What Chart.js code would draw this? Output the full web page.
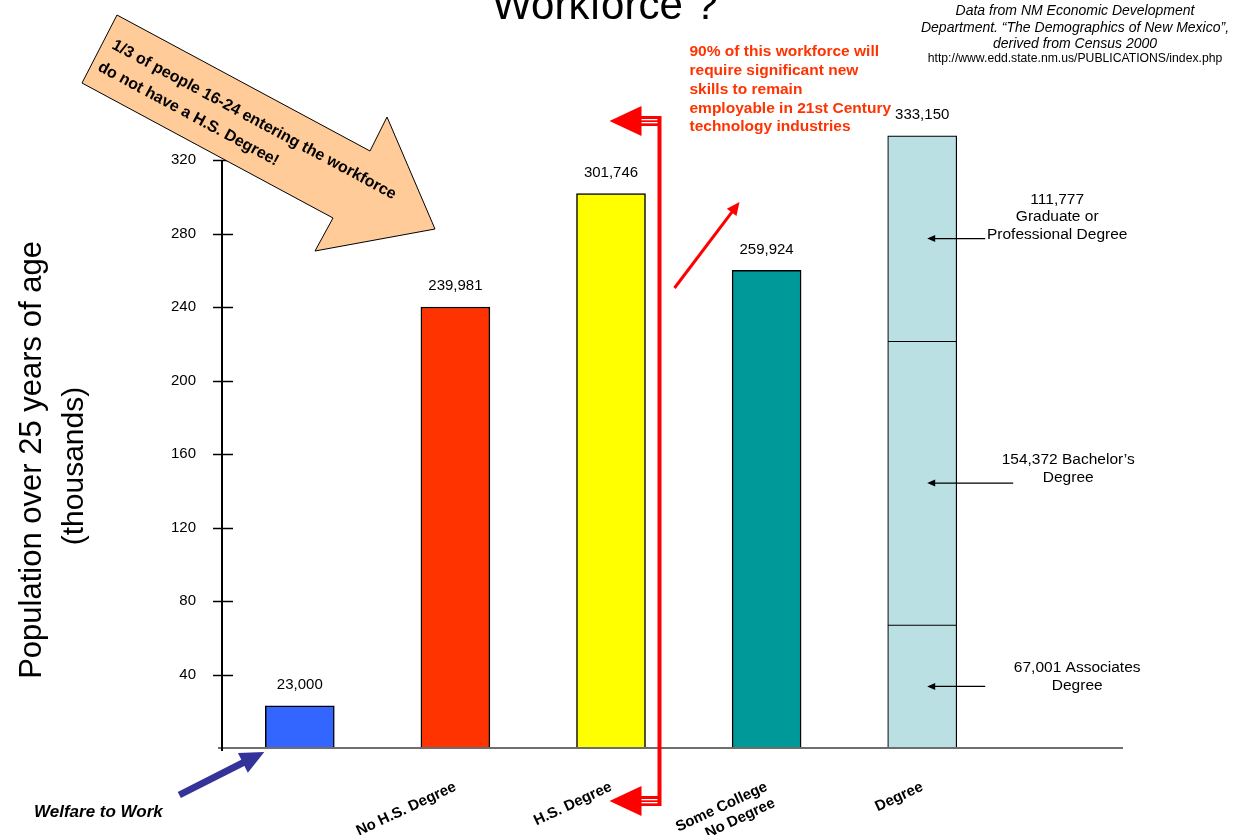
<!DOCTYPE html>
<html>
<head>
<meta charset="utf-8">
<script src="https://cdn.jsdelivr.net/npm/chart.js@4.4.1/dist/chart.umd.min.js"></script>
<style>
  html, body { margin: 0; padding: 0; background: #fff; }
  #wrap { width: 1239px; height: 835px; position: relative; }
</style>
</head>
<body>
<div id="wrap"><canvas id="chart"></canvas></div>
<script>
// values
const categories = ['Welfare to Work', 'No H.S. Degree', 'H.S. Degree', ['Some College', 'No Degree'], 'Degree'];
const population = [23000, 239981, 301746, 259924, null];
const barColors = ['#3366FF', '#FF3300', '#FFFF00', '#009999'];
const degreeLevels = ['Associates', 'Bachelor’s', 'Graduate or Professional'];
const degreeValues = [67001, 154372, 111777];
const yMax = 320000;
const yStep = 40000;

const FONT = '"Liberation Sans", Arial, Helvetica, sans-serif';
const fmt = v => v.toLocaleString('en-US');
const degreeIdx = categories.length - 1;

function txt(ctx, s, x, y, font, color, align, base) {
    ctx.font = font;
    ctx.fillStyle = color || '#000';
    ctx.textAlign = align || 'left';
    ctx.textBaseline = base || 'middle';
    ctx.fillText(s, x, y);
}

function arrow(ctx, x1, y1, x2, y2, w, head, half, color) {
    const a = Math.atan2(y2 - y1, x2 - x1);
    const c = Math.cos(a), s = Math.sin(a);
    ctx.strokeStyle = color;
    ctx.lineWidth = w;
    ctx.beginPath();
    ctx.moveTo(x1, y1);
    ctx.lineTo(x2 - c * head * 0.8, y2 - s * head * 0.8);
    ctx.stroke();
    ctx.fillStyle = color;
    ctx.beginPath();
    ctx.moveTo(x2, y2);
    ctx.lineTo(x2 - c * head + s * half, y2 - s * head - c * half);
    ctx.lineTo(x2 - c * head - s * half, y2 - s * head + c * half);
    ctx.closePath();
    ctx.fill();
}

const slideExtras = {
    id: 'slideExtras',
    afterDatasetsDraw(chart) {
        const ctx = chart.ctx;
        const area = chart.chartArea;
        const yScale = chart.scales.y;
        const main = chart.getDatasetMeta(0);
        ctx.save();

        // x baseline, runs on past the last bar like the slide
        ctx.strokeStyle = '#6e6e6e';
        ctx.lineWidth = 2;
        ctx.beginPath();
        ctx.moveTo(area.left - 4, area.bottom);
        ctx.lineTo(area.right + 123, area.bottom);
        ctx.stroke();

        // y axis line and crossing tick marks
        ctx.strokeStyle = '#000';
        ctx.lineWidth = 2;
        ctx.beginPath();
        ctx.moveTo(area.left, area.top);
        ctx.lineTo(area.left, area.bottom + 3);
        ctx.stroke();
        ctx.lineWidth = 1.5;
        yScale.ticks.forEach(t => {
            if (t.value === 0) return;
            const py = Math.round(yScale.getPixelForValue(t.value)) + 0.5;
            ctx.beginPath();
            ctx.moveTo(area.left - 9, py);
            ctx.lineTo(area.left + 11, py);
            ctx.stroke();
        });

        // value labels above the bars
        main.data.forEach((el, i) => {
            if (population[i] == null) return;
            txt(ctx, fmt(population[i]), el.x, el.y - 21, '15px ' + FONT, '#000', 'center');
        });
        const degreeTop = chart.getDatasetMeta(degreeValues.length).data[degreeIdx];
        const degreeTotal = degreeValues.reduce((a, b) => a + b, 0);
        txt(ctx, fmt(degreeTotal), degreeTop.x, degreeTop.y - 21, '15px ' + FONT, '#000', 'center');

        // notes for the three parts of the Degree bar
        const notes = [
            { lines: [fmt(degreeValues[0]) + ' ' + degreeLevels[0], 'Degree'], dx: 155, dy: [-19, -1], from: 63 },
            { lines: [fmt(degreeValues[1]) + ' ' + degreeLevels[1], 'Degree'], dx: 146, dy: [-23, -5], from: 91 },
            { lines: [fmt(degreeValues[2]), 'Graduate or', 'Professional Degree'], dx: 135, dy: [-39, -22, -4], from: 63 }
        ];
        notes.forEach((n, i) => {
            const el = chart.getDatasetMeta(i + 1).data[degreeIdx];
            const mid = (el.y + el.base) / 2;
            n.lines.forEach((l, k) => txt(ctx, l, el.x + n.dx, mid + n.dy[k], '15.5px ' + FONT, '#000', 'center'));
            arrow(ctx, el.x + n.from, mid, el.x + 5, mid, 1.3, 8, 3.5, '#000');
        });

        // red bracket between H.S. Degree and Some College
        const hs = main.data[2];
        const bx = hs.x + hs.width / 2 + 14;
        const red = '#FF0000';
        ctx.fillStyle = red;
        ctx.fillRect(bx - 2, 116, 4, 690);
        [[121, 116], [801, 796]].forEach(([cy, bandTop]) => {
            ctx.fillStyle = red;
            ctx.fillRect(bx - 19, bandTop, 19, 10);
            ctx.fillStyle = '#fff';
            ctx.fillRect(bx - 19, bandTop + 3, 17, 1.3);
            ctx.fillRect(bx - 19, bandTop + 6, 17, 1.3);
            ctx.fillStyle = red;
            ctx.beginPath();
            ctx.moveTo(bx - 50, cy);
            ctx.lineTo(bx - 18, cy - 15);
            ctx.lineTo(bx - 18, cy + 15);
            ctx.closePath();
            ctx.fill();
        });
        arrow(ctx, bx + 15, 288, bx + 80, 202, 3, 13, 6, red);
        const redLines = ['90% of this workforce will', 'require significant new', 'skills to remain',
            'employable in 21st Century', 'technology industries'];
        redLines.forEach((l, k) => txt(ctx, l, bx + 30, 52 + k * 18.8, 'bold 15.5px ' + FONT, '#FF3300', 'left'));

        // Welfare to Work pointer
        const wf = main.data[0];
        const tipX = wf.x - wf.width / 2 - 1;
        arrow(ctx, tipX - 85, 795, tipX, 752, 7, 24, 11, '#333399');
        txt(ctx, categories[0], 34, 812, 'italic bold 17px ' + FONT, '#000', 'left');

        // orange callout arrow
        ctx.beginPath();
        [[117, 15], [370, 151], [387, 117], [435, 229], [315, 251], [333, 218], [82, 83]].forEach((p, k) => {
            k ? ctx.lineTo(p[0], p[1]) : ctx.moveTo(p[0], p[1]);
        });
        ctx.closePath();
        ctx.fillStyle = '#FFCC99';
        ctx.fill();
        ctx.strokeStyle = '#000';
        ctx.lineWidth = 1;
        ctx.stroke();
        const tilt = Math.atan2(136, 253);
        ctx.save();
        ctx.translate(111, 48);
        ctx.rotate(tilt);
        txt(ctx, '1/3 of people 16-24 entering the workforce', 0, 0, 'bold 16px ' + FONT, '#000', 'left', 'alphabetic');
        ctx.restore();
        ctx.save();
        ctx.translate(97, 70);
        ctx.rotate(tilt);
        txt(ctx, 'do not have a H.S. Degree!', 0, 0, 'bold 16px ' + FONT, '#000', 'left', 'alphabetic');
        ctx.restore();

        // title (top is cut off on the slide)
        txt(ctx, 'Workforce ?', 605, 19, '42px ' + FONT, '#000', 'center', 'alphabetic');

        // source note
        txt(ctx, 'Data from NM Economic Development', 1075, 11, 'italic 14px ' + FONT, '#000', 'center');
        txt(ctx, 'Department. “The Demographics of New Mexico”,', 1075, 28, 'italic 14px ' + FONT, '#000', 'center');
        txt(ctx, 'derived from Census 2000', 1075, 44, 'italic 14px ' + FONT, '#000', 'center');
        txt(ctx, 'http://www.edd.state.nm.us/PUBLICATIONS/index.php', 1075, 59, '12.2px ' + FONT, '#000', 'center');

        // y axis title
        ctx.save();
        ctx.translate(32, 460);
        ctx.rotate(-Math.PI / 2);
        txt(ctx, 'Population over 25 years of age', 0, 0, '31px ' + FONT, '#000', 'center');
        ctx.restore();
        ctx.save();
        ctx.translate(75, 466);
        ctx.rotate(-Math.PI / 2);
        txt(ctx, '(thousands)', 0, 0, '30px ' + FONT, '#000', 'center');
        ctx.restore();

        ctx.restore();
    }
};

Chart.defaults.font.family = FONT;
Chart.defaults.color = '#000';

const datasets = [{
    label: 'Population over 25',
    data: population,
    backgroundColor: barColors,
    borderColor: '#000',
    borderWidth: 1.5,
    barThickness: 69
}].concat(degreeValues.map((v, i) => ({
    label: degreeLevels[i] + ' Degree',
    data: categories.map((c, j) => (j === degreeIdx ? v : null)),
    backgroundColor: '#BBE0E3',
    borderColor: '#000',
    borderWidth: 1.2,
    barThickness: 69,
    clip: false
})));

new Chart(document.getElementById('chart'), {
    type: 'bar',
    data: { labels: categories, datasets: datasets },
    options: {
        responsive: true,
        maintainAspectRatio: false,
        animation: false,
        layout: { padding: { top: 160, right: 239, left: 0, bottom: 0 } },
        plugins: { legend: { display: false }, tooltip: { enabled: false } },
        scales: {
            x: {
                stacked: true,
                grid: { display: false, drawTicks: false },
                border: { display: false },
                afterFit: s => { s.height = 87; },
                ticks: {
                    autoSkip: false,
                    minRotation: 25,
                    maxRotation: 25,
                    padding: 30,
                    font: { size: 15, weight: 'bold' },
                    color: '#000',
                    callback: function (value, index) {
                        return index === 0 ? '' : this.getLabelForValue(value);
                    }
                }
            },
            y: {
                stacked: true,
                min: 0,
                max: yMax,
                grid: { display: false, drawTicks: false },
                border: { display: false },
                afterFit: s => { s.width = 222; },
                ticks: {
                    stepSize: yStep,
                    padding: 26,
                    font: { size: 15 },
                    color: '#000',
                    callback: v => (v === 0 ? '' : v / 1000)
                }
            }
        }
    },
    plugins: [slideExtras]
});
</script>
</body>
</html>
